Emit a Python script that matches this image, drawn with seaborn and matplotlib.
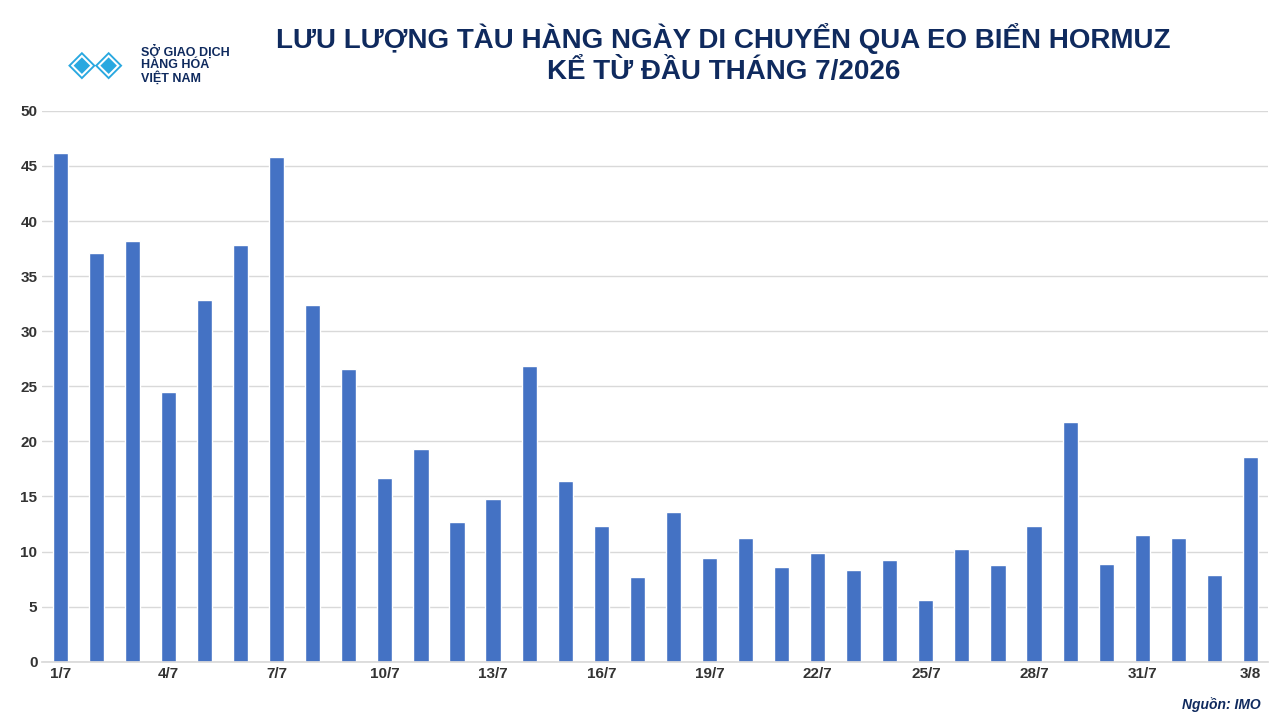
import matplotlib
matplotlib.use("Agg")
import matplotlib.pyplot as plt
import seaborn as sns
import pandas as pd

days = ["1/7","2/7","3/7","4/7","5/7","6/7","7/7","8/7","9/7","10/7","11/7","12/7","13/7","14/7","15/7","16/7","17/7","18/7","19/7","20/7","21/7","22/7","23/7","24/7","25/7","26/7","27/7","28/7","29/7","30/7","31/7","1/8","2/8","3/8"]
values = [46.2,37.1,38.2,24.5,32.8,37.8,45.8,32.4,26.6,16.7,19.3,12.7,14.8,26.8,16.4,12.3,7.7,13.6,9.4,11.2,8.6,9.9,8.3,9.2,5.6,10.2,8.8,12.3,21.8,8.9,11.5,11.2,7.9,18.6]
df = pd.DataFrame({"day": days, "v": values})

sns.set_theme(style="white")
plt.rcParams['font.family'] = ['Liberation Sans', 'DejaVu Sans']
fig = plt.figure(figsize=(12.8, 7.2), dpi=100)
ax = fig.add_axes([0.033, 0.081, 0.958, 0.765])
sns.barplot(data=df, x="day", y="v", color="#4472C4", saturation=1, width=0.42, ax=ax)
ax.set_ylim(0, 50)
ax.set_xlim(-0.5, len(days) - 0.5)
ax.set_yticks(range(0, 51, 5))
ax.yaxis.grid(True, color="#D9D9D9", lw=1)
ax.set_axisbelow(True)
for s in ["top", "right", "left"]:
    ax.spines[s].set_visible(False)
ax.spines["bottom"].set_color("#D9D9D9")
ax.set_xticks(range(0, len(days), 3))
ax.set_xticklabels(days[::3], fontsize=11, fontweight="bold", color="#333333")
ax.tick_params(axis="y", labelsize=11, colors="#333333", length=0)
for t in ax.get_yticklabels():
    t.set_fontweight("bold")
ax.tick_params(axis="x", length=0)
ax.set_xlabel(""); ax.set_ylabel("")

fig.text(0.565, 0.925, "LƯU LƯỢNG TÀU HÀNG NGÀY DI CHUYỂN QUA EO BIỂN HORMUZ\nKỂ TỪ ĐẦU THÁNG 7/2026",
         ha="center", va="center", fontsize=20, fontweight="bold", color="#0F2A5E", linespacing=1.3)
fig.text(0.11, 0.91, "SỞ GIAO DỊCH\nHÀNG HÓA\nVIỆT NAM", ha="left", va="center",
         fontsize=9, fontweight="bold", color="#0F2A5E", linespacing=1.0)
fig.text(0.075, 0.91, "◈◈", ha="center", va="center", fontsize=26, color="#29A8E0")
fig.text(0.985, 0.022, "Nguồn: IMO", ha="right", va="center", fontsize=10,
         fontweight="bold", fontstyle="italic", color="#0F2A5E")
fig.savefig("out.png", dpi=100)
